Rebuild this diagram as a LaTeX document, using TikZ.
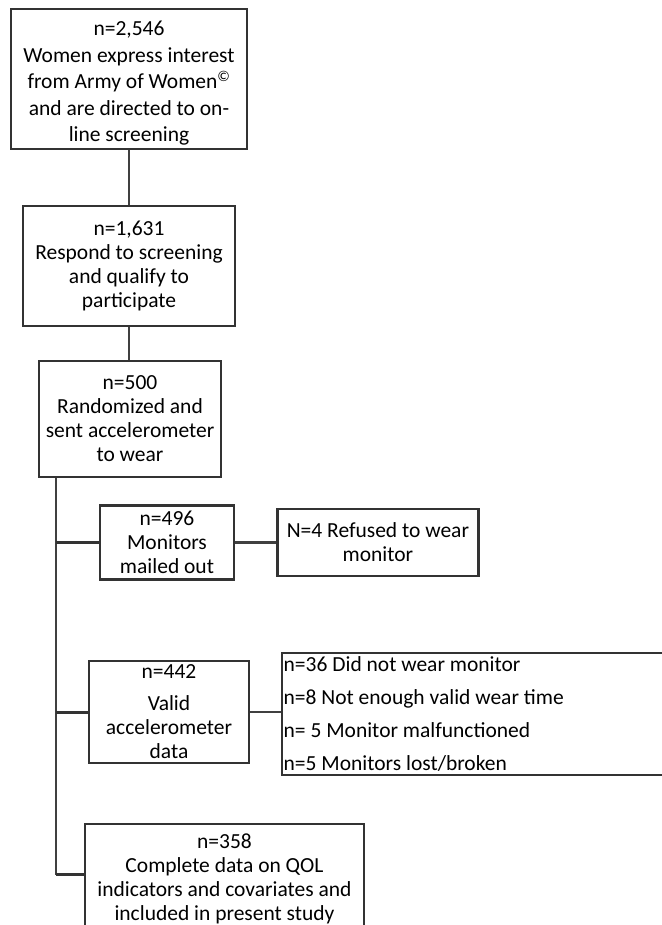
\documentclass[tikz,border=0pt]{standalone}
\usepackage{fontspec}
\setmainfont{Carlito}
\usetikzlibrary{positioning}
\tikzset{
        x=1pt, y=-1pt, % picture measured in pixels, y downwards
        box/.style={draw=black!80, line width=2.4pt, align=flush center, inner sep=0pt,
                    font=\fontsize{21.5}{24}\selectfont}, % every box of the chart
        link/.style={draw=black!75, line width=1.6pt}, % thin connector
        branch/.style={draw=black!80, line width=3pt}, % thick side branch
    }
\begin{document}
\begin{tikzpicture}
    \useasboundingbox (0,0) rectangle (661,925);
    \node[box, minimum width=236pt, minimum height=140pt, font=\fontsize{21.5}{26.5}\selectfont] (1) at (129,79.2)
        {\rule{0pt}{23pt}n=2,546\\Women express interest\\from Army of Women\textsuperscript{\textcopyright}\\and are directed to on-\\line screening};
    \node[box, minimum width=212pt, minimum height=120pt] (2) at (129,266)
        {n=1,631\\Respond to screening\\and qualify to\\participate};
    \node[box, minimum width=182pt, minimum height=116pt] (3) at (130,419)
        {n=500\\Randomized and\\sent accelerometer\\to wear};
    \node[box, minimum width=134pt, minimum height=74pt] (4) at (167,542.5)
        {n=496\\Monitors\\mailed out};
    \node[box, minimum width=201pt, minimum height=67pt, right=41pt of 4] (5)
        {N=4 Refused to wear\\monitor};
    \node[box, minimum width=160pt, minimum height=102pt] (6) at (169,712)
        {n=442\\[8pt]Valid\\accelerometer\\data};
    \node[box, anchor=west, text width=426pt, inner xsep=2pt, minimum height=122pt, align=flush left,
          font=\fontsize{21.5}{33}\selectfont] (7) at (280.5,714)
        {n=36 Did not wear monitor\\n=8 Not enough valid wear time\\n= 5 Monitor malfunctioned\\n=5 Monitors lost/broken};
    \node[box, minimum width=279pt, minimum height=110pt] (8) at (224.5,879)
        {n=358\\Complete data on QOL\\indicators and covariates and\\included in present study};
    \coordinate (t) at ([xshift=18pt]3.south west);
    \coordinate (b) at ([yshift=5pt]8.west); % bottom branch sits above the box middle
    \draw[link] (1) -- (2);
    \draw[link] (2.south) -- (2.south |- 3.north);
    \draw[link] (t) |- (b);
    \draw[branch] (t |- 4.west) -- (4.west);
    \draw[branch] (t |- 6.west) -- (6.west);
    \draw[branch] (t |- b) -- (b);
    \draw[link, line width=2.2pt] (4) -- (5);
    \draw[link, line width=2.2pt] (6.east) -- (6.east -| 7.west);
\end{tikzpicture}
\end{document}
